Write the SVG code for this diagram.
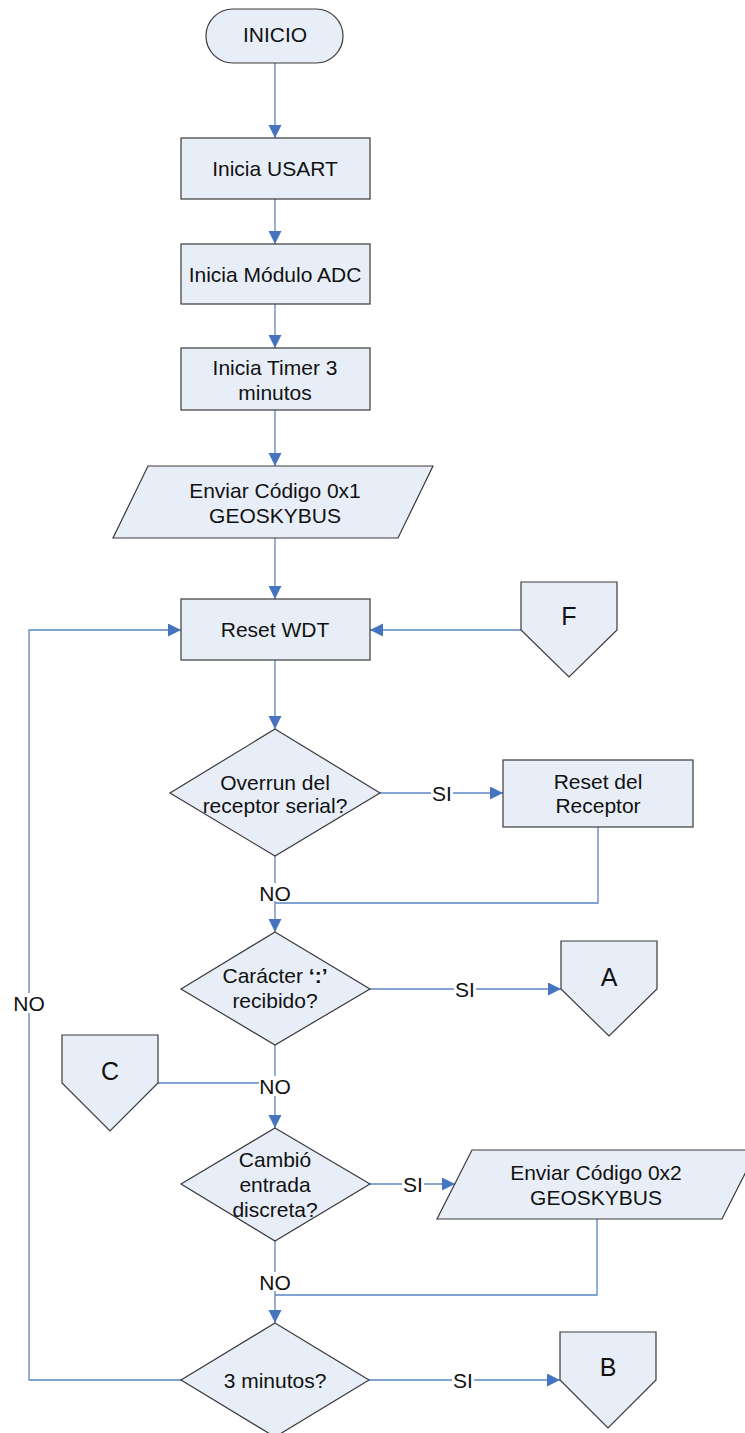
<svg xmlns="http://www.w3.org/2000/svg" width="745" height="1433" viewBox="0 0 745 1433">
  <style>
    .shape { fill: #E8EEF7; stroke: #3A3A3A; stroke-width: 1.2; }
    .txt { font-family: "Liberation Sans", Arial, sans-serif; font-size: 21px; fill: #111; text-anchor: middle; }
    .big { font-size: 25px; }
    .wire { fill: none; stroke: #5B86C5; stroke-width: 1.3; }
    .arrow { marker-end: url(#head); }
    .lblbg { fill: #FFFFFF; }
  </style>
  <defs>
    <marker id="head" markerUnits="userSpaceOnUse" markerWidth="14" markerHeight="14" refX="13" refY="6.5" orient="auto">
      <path d="M0,0 L13,6.5 L0,13 Z" fill="#4674C0"/>
    </marker>
  </defs>
  <rect width="745" height="1433" fill="#FFFFFF"/>

  <!-- connectors -->
  <g id="connectors">
    <path class="wire arrow" d="M275,63 V138"/>
    <path class="wire arrow" d="M275,199 V244"/>
    <path class="wire arrow" d="M275,304 V348"/>
    <path class="wire arrow" d="M275,410 V466"/>
    <path class="wire arrow" d="M275,538 V599"/>
    <path class="wire arrow" d="M275,660 V729"/>
    <path class="wire arrow" d="M380,793 H503"/>
    <path class="wire arrow" d="M275,856 V932"/>
    <path class="wire" d="M598,827 V903 H275"/>
    <path class="wire arrow" d="M370,989 H561"/>
    <path class="wire arrow" d="M275,1045 V1128"/>
    <path class="wire" d="M158,1083 H275"/>
    <path class="wire arrow" d="M370,1184 H455"/>
    <path class="wire arrow" d="M275,1241 V1323"/>
    <path class="wire" d="M597,1219 V1295 H275"/>
    <path class="wire arrow" d="M369,1380 H560"/>
    <path class="wire arrow" d="M181,1380 H29 V630 H181"/>
    <path class="wire arrow" d="M521,630 H370"/>

    <!-- branch labels -->
    <rect class="lblbg" x="431" y="783" width="22" height="20"/>
    <text class="txt" x="442" y="800.5">SI</text>
    <rect class="lblbg" x="259" y="883" width="32" height="18"/>
    <text class="txt" x="275" y="900.5">NO</text>
    <rect class="lblbg" x="454" y="979" width="22" height="20"/>
    <text class="txt" x="465" y="996.5">SI</text>
    <rect class="lblbg" x="259" y="1076" width="32" height="20"/>
    <text class="txt" x="275" y="1093.5">NO</text>
    <rect class="lblbg" x="402" y="1174" width="22" height="20"/>
    <text class="txt" x="413" y="1191.5">SI</text>
    <rect class="lblbg" x="259" y="1272" width="32" height="19"/>
    <text class="txt" x="275" y="1289.5">NO</text>
    <rect class="lblbg" x="452" y="1370" width="22" height="20"/>
    <text class="txt" x="463" y="1387.5">SI</text>
    <rect class="lblbg" x="13" y="993" width="32" height="20"/>
    <text class="txt" x="29" y="1010.5">NO</text>
  </g>

  <!-- nodes -->
  <g id="inicio">
    <rect class="shape" x="206" y="9" width="137" height="54" rx="27" ry="27"/>
    <text class="txt" x="275" y="42">INICIO</text>
  </g>
  <g id="inicia-usart">
    <rect class="shape" x="181" y="138" width="189" height="61"/>
    <text class="txt" x="275" y="175.5">Inicia USART</text>
  </g>
  <g id="inicia-adc">
    <rect class="shape" x="181" y="244" width="189" height="60"/>
    <text class="txt" x="275" y="281.5">Inicia Módulo ADC</text>
  </g>
  <g id="inicia-timer">
    <rect class="shape" x="181" y="348" width="189" height="62"/>
    <text class="txt" x="275" y="374.5">Inicia Timer 3</text>
    <text class="txt" x="275" y="399.5">minutos</text>
  </g>
  <g id="enviar-0x1">
    <polygon class="shape" points="148,466 433,466 398,538 113,538"/>
    <text class="txt" x="275" y="497.5">Enviar Código 0x1</text>
    <text class="txt" x="275" y="522.5">GEOSKYBUS</text>
  </g>
  <g id="reset-wdt">
    <rect class="shape" x="181" y="599" width="189" height="61"/>
    <text class="txt" x="275" y="637">Reset WDT</text>
  </g>
  <g id="conector-f">
    <polygon class="shape" points="521,582 617,582 617,630 569,677 521,630"/>
    <text class="txt big" x="569" y="625">F</text>
  </g>
  <g id="overrun">
    <polygon class="shape" points="275,729 380,793 275,856 170,793"/>
    <text class="txt" x="275" y="789.5">Overrun del</text>
    <text class="txt" x="275" y="812.5">receptor serial?</text>
  </g>
  <g id="reset-receptor">
    <rect class="shape" x="503" y="760" width="190" height="67"/>
    <text class="txt" x="598" y="788.5">Reset del</text>
    <text class="txt" x="598" y="812.5">Receptor</text>
  </g>
  <g id="caracter">
    <polygon class="shape" points="275,932 370,989 275,1045 181,989"/>
    <text class="txt" x="275" y="982.5">Carácter <tspan font-weight="bold">‘:’</tspan></text>
    <text class="txt" x="275" y="1007.5">recibido?</text>
  </g>
  <g id="conector-a">
    <polygon class="shape" points="561,941 657,941 657,989 609,1036 561,989"/>
    <text class="txt big" x="609" y="986">A</text>
  </g>
  <g id="conector-c">
    <polygon class="shape" points="62,1035 158,1035 158,1083 110,1131 62,1083"/>
    <text class="txt big" x="110" y="1080">C</text>
  </g>
  <g id="cambio">
    <polygon class="shape" points="275,1128 370,1184 275,1241 181,1184"/>
    <text class="txt" x="275" y="1166.5">Cambió</text>
    <text class="txt" x="275" y="1191.5">entrada</text>
    <text class="txt" x="275" y="1216.5">discreta?</text>
  </g>
  <g id="enviar-0x2">
    <polygon class="shape" points="472,1150 757,1150 722,1219 437,1219"/>
    <text class="txt" x="596" y="1179.5">Enviar Código 0x2</text>
    <text class="txt" x="596" y="1204.5">GEOSKYBUS</text>
  </g>
  <g id="tres-minutos">
    <polygon class="shape" points="275,1323 369,1380 275,1437 181,1380"/>
    <text class="txt" x="275" y="1387.5">3 minutos?</text>
  </g>
  <g id="conector-b">
    <polygon class="shape" points="560,1332 656,1332 656,1380 608,1428 560,1380"/>
    <text class="txt big" x="608" y="1376">B</text>
  </g>
</svg>
